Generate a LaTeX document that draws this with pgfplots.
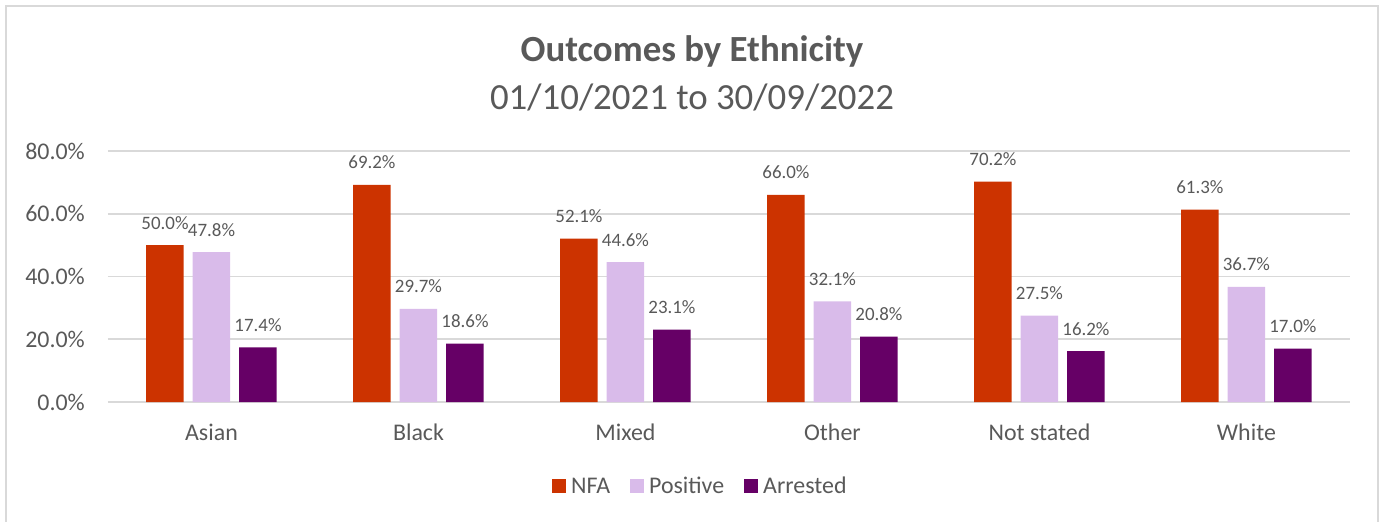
\documentclass[border=0pt]{standalone}
\usepackage{fontspec}
\setmainfont{Carlito}
\usepackage{pgfplots}
\pgfplotsset{compat=1.18}
\definecolor{nfa}{HTML}{CC3300}
\definecolor{pos}{HTML}{D9BBEA}
\definecolor{arr}{HTML}{660066}
\definecolor{txt}{HTML}{595959}
\definecolor{grd}{HTML}{D9D9D9}
\begin{document}
\begin{tikzpicture}
\useasboundingbox (-108bp,-120bp) rectangle (1276bp,402bp);
\draw[grd, line width=1.3bp] (-102bp,-130bp) -- (-102bp,396bp) -- (1270bp,396bp) -- (1270bp,-130bp);
\begin{axis}[
  at={(0,0)}, anchor=south west,
  scale only axis, width=1242bp, height=251bp,
  ybar=9bp, bar width=37.5bp,
  xmin=-0.5, xmax=5.5, ymin=0, ymax=80,
  clip=false,
  axis line style={draw=none},
  xtick={0,1,2,3,4,5},
  xticklabels={Asian,Black,Mixed,Other,Not stated,White},
  ytick={0,20,40,60,80},
  yticklabels={0.0\%,20.0\%,40.0\%,60.0\%,80.0\%},
  major tick length=0pt,
  ymajorgrids, grid style={grd, line width=1.6bp},
  xticklabel style={font=\fontsize{24}{28}\selectfont, text=txt, anchor=base, yshift=-38bp},
  yticklabel style={font=\fontsize{24}{28}\selectfont, text=txt, anchor=east, inner sep=0pt, xshift=-23bp},
  /pgf/number format/assume math mode=true,
  nodes near coords={\pgfmathprintnumber[fixed,fixed zerofill,precision=1]{\pgfplotspointmeta}\%},
  every node near coord/.append style={font=\fontsize{19}{22}\selectfont, text=txt, anchor=base, inner sep=0pt, yshift=16bp},
  legend columns=3,
  legend style={draw=none, fill=none, at={(axis description cs:0.477,-0.335)}, anchor=center,
    font=\fontsize{24}{28}\selectfont, text=txt,
    /tikz/every even column/.append style={column sep=18bp},
    /tikz/every odd column/.append style={column sep=3bp}},
  legend image code/.code={\fill[#1] (0bp,-7bp) rectangle (14bp,7bp);},
]
\addplot[fill=nfa, draw=none] coordinates {(0,50.0) (1,69.2) (2,52.1) (3,66.0) (4,70.2) (5,61.3)};
\addplot[fill=pos, draw=none] coordinates {(0,47.8) (1,29.7) (2,44.6) (3,32.1) (4,27.5) (5,36.7)};
\addplot[fill=arr, draw=none] coordinates {(0,17.4) (1,18.6) (2,23.1) (3,20.8) (4,16.2) (5,17.0)};
\legend{NFA,Positive,Arrested}
\end{axis}
\node[anchor=base, text=txt, font=\fontsize{37}{44}\selectfont\bfseries] at (584bp,340bp) {Outcomes by Ethnicity};
\node[anchor=base, text=txt, font=\fontsize{37}{44}\selectfont] at (584bp,292bp) {01/10/2021 to 30/09/2022};
\end{tikzpicture}
\end{document}
